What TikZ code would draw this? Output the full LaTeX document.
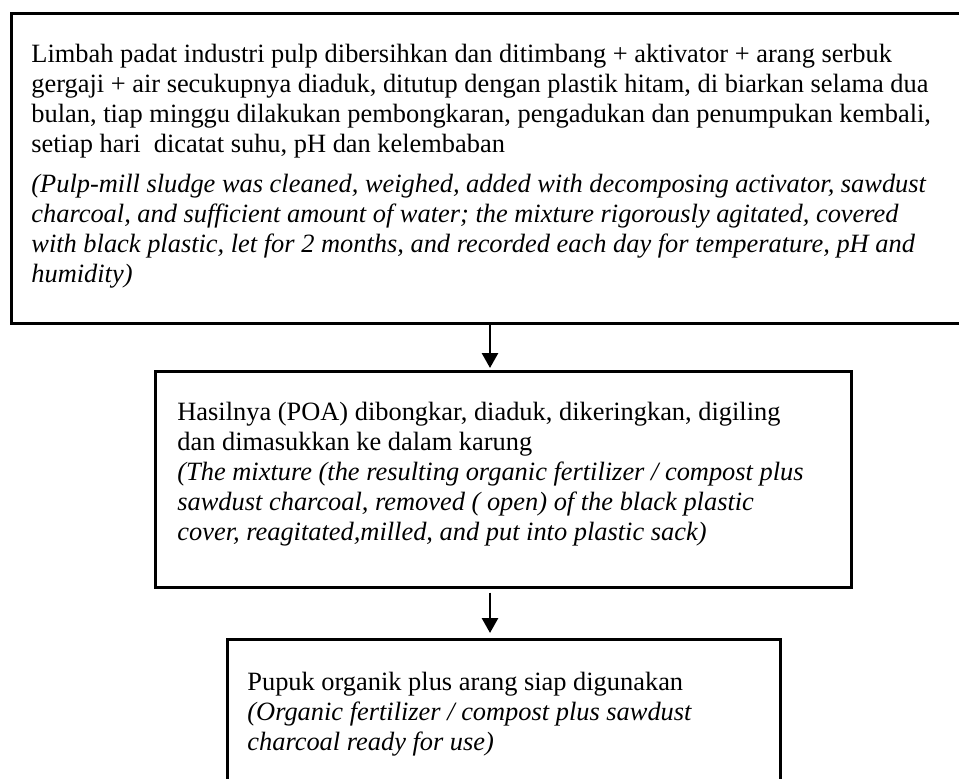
\documentclass[tikz,border=0pt]{standalone}
\usepackage{fontspec}
\setmainfont{Liberation Serif}
\usetikzlibrary{arrows.meta,positioning}

\begin{document}
\begin{tikzpicture}[x=0.5pt,y=-0.5pt,>={Triangle[length=7.5pt,width=8pt]},
    every node/.style={font=\fontsize{13.2}{15}\selectfont}]
  \tikzstyle{stepbox}=[draw=black,line width=1.35pt,inner sep=0pt,anchor=north west]
  \tikzstyle{steptext}=[align=left,inner sep=0pt,anchor=north west]
  \useasboundingbox (0,0) rectangle (959,778);
  % Boxes
  \node[stepbox,minimum width=482.5pt,minimum height=155pt] (box1) at (10,12) {};
  \node[stepbox,minimum width=348pt,minimum height=108pt] (box2) at (154,370) {};
  \node[stepbox,minimum width=276.5pt,minimum height=81pt] (box3) at (226,638) {};
  % Texts
  \node[steptext] (text1) at (31,44) {Limbah padat industri pulp dibersihkan dan ditimbang + aktivator + arang serbuk\\
    gergaji + air secukupnya diaduk, ditutup dengan plastik hitam, di biarkan selama dua\\
    bulan, tiap minggu dilakukan pembongkaran, pengadukan dan penumpukan kembali,\\
    setiap hari~~dicatat suhu, pH dan kelembaban\\[5pt]
    \textit{(Pulp-mill sludge was cleaned, weighed, added with decomposing activator, sawdust}\\
    \textit{charcoal, and sufficient amount of water; the mixture rigorously agitated, covered}\\
    \textit{with black plastic, let for 2 months, and recorded each day for temperature, pH and}\\
    \textit{humidity)}};
  \node[steptext] (text2) at (177,402) {Hasilnya (POA) dibongkar, diaduk, dikeringkan, digiling\\
    dan dimasukkan ke dalam karung\\
    \textit{(The mixture (the resulting organic fertilizer / compost plus}\\
    \textit{sawdust charcoal, removed ( open) of the black plastic}\\
    \textit{cover, reagitated,milled, and put into plastic sack)}};
  \node[steptext] (text3) at (247,672) {Pupuk organik plus arang siap digunakan\\
    \textit{(Organic fertilizer / compost plus sawdust}\\
    \textit{charcoal ready for use)}};
  % Arrows
  \coordinate (axis) at (490,0);
  \draw[->,line width=1.4pt,shorten >=1pt] (box1.south -| axis) -- (box2.north -| axis);
  \draw[->,line width=1.4pt,shorten <=2pt,shorten >=2.5pt] (box2.south -| axis) -- (box3.north -| axis);
\end{tikzpicture}
\end{document}
